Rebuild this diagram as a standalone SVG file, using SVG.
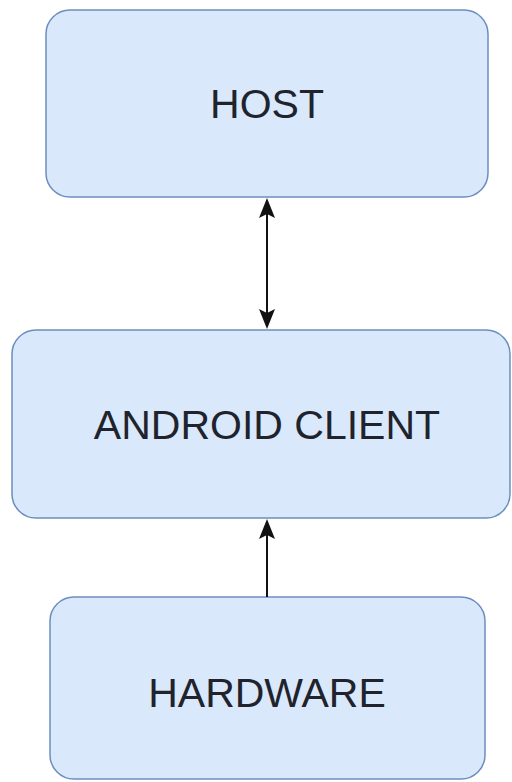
<svg xmlns="http://www.w3.org/2000/svg" width="512" height="782" viewBox="0 0 512 782">
<style>
.box{fill:#dae8fc;stroke:#6c8ebf;stroke-width:1.5}
.lbl{font-family:"Liberation Sans",Arial,sans-serif;font-size:41px;fill:#20232b;text-anchor:middle;dominant-baseline:central}
.edge{stroke:#111;stroke-width:2;fill:none}
.head{fill:#111;stroke:none}
</style>
<rect width="512" height="782" fill="#ffffff"/>
<g id="host">
<rect class="box" x="46" y="10" width="442" height="187" rx="24"/>
<text class="lbl" x="267" y="104">HOST</text>
</g>
<g id="android-client">
<rect class="box" x="12" y="330" width="498" height="188" rx="24"/>
<text class="lbl" x="267" y="425">ANDROID CLIENT</text>
</g>
<g id="hardware">
<rect class="box" x="50" y="597" width="435" height="182" rx="24"/>
<text class="lbl" x="267" y="693">HARDWARE</text>
</g>
<g id="connectors">
<line class="edge" x1="267" y1="210" x2="267" y2="316"/>
<path class="head" d="M267,198 L275,218 L267,214 L259,218 Z"/>
<path class="head" d="M267,329 L275,309 L267,313 L259,309 Z"/>
<line class="edge" x1="267" y1="532" x2="267" y2="597"/>
<path class="head" d="M267,519 L275,539 L267,535 L259,539 Z"/>
</g>
</svg>
